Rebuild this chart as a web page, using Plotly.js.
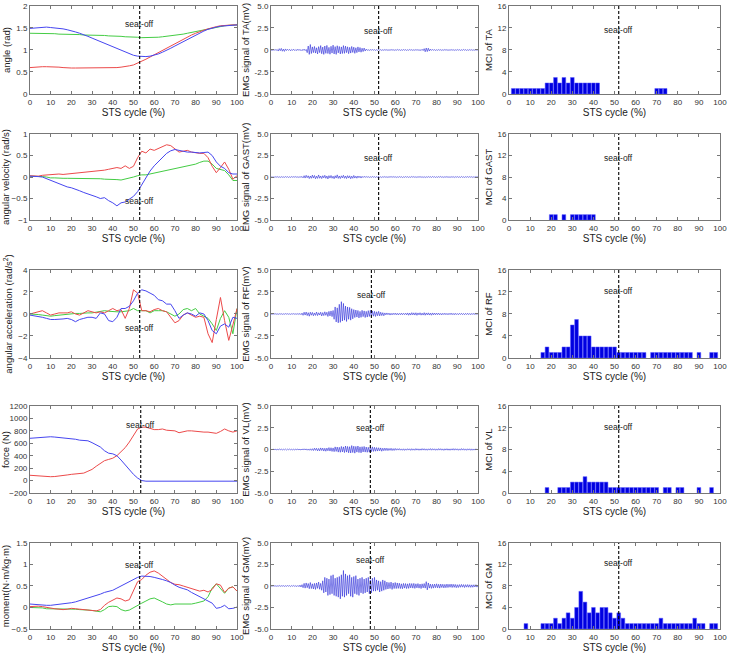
<!DOCTYPE html>
<html><head><meta charset="utf-8">
<script src="https://cdn.plot.ly/plotly-3.0.1.min.js"></script>
<style>html,body{margin:0;padding:0;background:#fff}#plot{width:730px;height:656px}</style>
</head><body><div id="plot"></div>
<script>
// ---------- data ----------
const cycleX = [0,2,4,6,8,10,12,14,16,18,20,22,24,26,28,30,32,34,36,38,40,42,44,46,48,50,52,54,56,58,60,62,64,66,68,70,72,74,76,78,80,82,84,86,88,90,92,94,96,98,100];

const angleBlue = [1.49,1.50,1.51,1.52,1.52,1.51,1.50,1.50,1.48,1.46,1.44,1.41,1.38,1.35,1.31,1.27,1.23,1.19,1.15,1.11,1.07,1.03,0.99,0.95,0.91,0.88,0.86,0.85,0.85,0.86,0.88,0.91,0.95,0.99,1.04,1.09,1.14,1.19,1.24,1.29,1.34,1.39,1.43,1.47,1.50,1.52,1.54,1.55,1.56,1.57,1.57];
const angleRed = [0.60,0.61,0.61,0.62,0.62,0.62,0.62,0.61,0.60,0.59,0.59,0.59,0.59,0.59,0.59,0.59,0.59,0.59,0.59,0.59,0.59,0.60,0.61,0.62,0.64,0.66,0.70,0.74,0.79,0.84,0.89,0.95,1.00,1.05,1.10,1.15,1.20,1.25,1.30,1.34,1.38,1.42,1.45,1.48,1.51,1.53,1.55,1.56,1.57,1.57,1.57];
const angleGreen = [1.38,1.38,1.38,1.38,1.37,1.37,1.37,1.36,1.36,1.36,1.36,1.35,1.35,1.34,1.34,1.34,1.33,1.33,1.33,1.32,1.32,1.31,1.31,1.30,1.30,1.29,1.29,1.28,1.28,1.28,1.28,1.29,1.30,1.31,1.32,1.33,1.35,1.36,1.38,1.40,1.42,1.44,1.46,1.48,1.50,1.52,1.53,1.55,1.56,1.57,1.57];

const velBlue = [0.02,0.02,0.01,0.0,-0.04,-0.08,-0.12,-0.16,-0.19,-0.23,-0.25,-0.28,-0.32,-0.36,-0.39,-0.42,-0.46,-0.50,-0.48,-0.55,-0.60,-0.67,-0.60,-0.58,-0.52,-0.45,-0.34,-0.18,-0.02,0.14,0.26,0.36,0.46,0.55,0.61,0.64,0.62,0.60,0.58,0.58,0.57,0.56,0.57,0.58,0.50,0.35,0.25,0.20,0.10,0.07,0.07];
const velRed = [0.03,0.02,0.02,0.04,0.05,0.05,0.06,0.07,0.06,0.07,0.08,0.08,0.09,0.10,0.12,0.12,0.14,0.15,0.16,0.18,0.20,0.22,0.20,0.26,0.20,0.25,0.45,0.60,0.56,0.65,0.62,0.66,0.70,0.75,0.73,0.65,0.58,0.60,0.62,0.58,0.56,0.55,0.55,0.45,0.25,0.10,0.22,0.35,0.18,-0.05,0.03];
const velGreen = [0.02,0.02,0.01,0.01,0.0,-0.02,-0.02,-0.03,-0.03,-0.03,-0.03,-0.03,-0.03,-0.04,-0.04,-0.04,-0.04,-0.04,-0.05,-0.05,-0.05,-0.06,-0.07,-0.05,-0.03,0.0,0.03,0.05,0.05,0.07,0.10,0.12,0.13,0.15,0.18,0.20,0.22,0.23,0.25,0.27,0.30,0.34,0.37,0.37,0.30,0.20,0.18,0.15,0.05,-0.08,-0.08];

const accBlue = [-0.1,-0.15,-0.2,-0.3,-0.4,-0.5,-0.5,-0.5,-0.45,-0.4,-0.5,-0.7,-0.5,-0.4,-0.3,-0.3,-0.4,0.1,0.0,-0.6,-0.7,-0.3,0.5,0.5,0.7,1.2,1.9,2.2,2.1,1.9,1.7,1.3,1.2,0.9,0.9,0.3,-0.4,-0.1,0.1,0.0,-0.2,0.1,0.0,-0.6,-1.5,-1.8,-1.1,-0.9,-1.2,-0.3,-0.4];
const accRed = [0.0,0.1,0.2,0.3,0.1,-0.1,0.0,0.1,0.1,0.1,0.2,0.0,-0.1,0.1,0.3,0.2,0.1,0.2,0.1,0.3,0.5,0.3,0.4,-0.4,0.5,2.2,1.9,0.3,0.3,0.2,0.4,0.5,0.3,0.2,-0.3,-0.8,-0.6,-0.1,0.1,-0.1,-0.3,-0.2,-0.3,-1.8,-2.6,-0.5,1.5,-0.6,-2.4,-1.0,0.5];
const accGreen = [0.0,0.0,-0.05,-0.1,-0.15,-0.2,-0.15,-0.1,-0.05,0.0,0.0,0.05,0.05,0.1,0.1,0.1,0.15,0.2,0.3,0.25,0.2,0.2,0.2,0.25,0.3,0.5,0.3,0.3,0.3,0.1,0.3,0.3,0.3,0.2,0.0,-0.2,0.0,0.4,0.5,0.3,0.5,0.0,-0.2,-0.4,-0.9,-1.5,-0.4,0.3,-0.3,-1.8,0.5];

const forceBlue = [680,685,690,700,710,705,700,695,690,685,675,665,650,645,640,610,575,540,480,440,430,400,330,250,170,100,40,0,-10,-10,-10,-10,-10,-10,-10,-10,-10,-10,-10,-10,-10,-10,-10,-10,-10,-10,-10,-10,-10,-10,-10];
const forceRed = [85,80,70,65,60,62,65,70,80,90,100,105,115,120,150,180,230,280,320,340,360,400,460,530,620,730,830,860,860,840,820,820,830,810,810,800,770,790,800,800,790,790,780,780,770,760,790,830,800,780,800];

const momBlue = [0.08,0.07,0.06,0.05,0.05,0.05,0.06,0.07,0.09,0.10,0.11,0.13,0.16,0.19,0.22,0.25,0.27,0.31,0.35,0.37,0.40,0.45,0.50,0.55,0.60,0.65,0.70,0.73,0.73,0.72,0.70,0.68,0.65,0.62,0.58,0.52,0.47,0.44,0.41,0.35,0.30,0.25,0.20,0.15,0.10,-0.02,0.0,0.05,-0.03,-0.02,0.01];
const momRed = [0.02,0.03,0.03,0.02,0.0,-0.02,-0.03,-0.04,-0.05,-0.04,-0.02,-0.03,-0.04,-0.05,-0.06,-0.07,-0.08,-0.05,0.05,0.12,0.18,0.22,0.20,0.15,0.18,0.40,0.60,0.65,0.75,0.82,0.85,0.80,0.72,0.64,0.58,0.54,0.53,0.50,0.47,0.44,0.40,0.38,0.40,0.36,0.42,0.55,0.52,0.35,0.45,0.48,0.38];
const momGreen = [0.0,0.0,0.0,-0.01,-0.03,-0.03,-0.03,-0.04,-0.04,-0.03,-0.03,-0.04,-0.05,-0.05,-0.06,-0.07,-0.08,-0.10,-0.05,0.02,0.03,0.02,-0.05,-0.08,-0.06,0.0,0.05,0.10,0.15,0.20,0.22,0.18,0.13,0.08,0.06,0.08,0.08,0.07,0.07,0.08,0.10,0.12,0.15,0.25,0.45,0.55,0.45,0.33,0.45,0.48,0.38];

// EMG signals sampled every 0.5 % of the STS cycle (0 .. 100)
const emgStep = 0.5;
const emgTA = [.03,-.05,.04,-.03,.05,-.04,.06,
-.12,.15,-.08,.18,-.14,.1,-.16,.12,
-.06,.08,-.05,.07,-.09,.06,-.04,.08,-.07,.05,-.06,.09,-.05,.07,-.08,.05,-.06,.1,-.07,.06,
-.3,.45,-.5,.62,-.4,.35,
-.3,.4,-.35,.25,-.45,.38,-.3,.5,-.42,.33,-.5,.45,-.38,.52,-.4,.3,-.48,.42,-.35,.55,-.45,.38,-.5,.48,-.33,.4,-.45,.35,-.4,.5,-.38,.44,-.3,.36,-.42,.3,-.35,.4,-.28,.32,-.38,.25,-.3,.35,-.22,.28,-.25,.2,-.18,.22,-.12,.1,
-.04,.03,-.05,.04,-.02,.05,-.03,.04,-.05,.03,-.04,.06,-.03,.04,-.05,.03,-.04,.05,-.03,.04,-.05,.03,-.04,.05,-.02,.04,-.05,.03,-.04,.06,-.03,.04,-.05,.03,-.04,.05,-.03,.04,-.05,.03,-.04,.06,-.03,.04,-.05,.03,-.04,.05,-.03,.04,-.05,.03,-.06,.08,-.07,
.15,-.2,.22,-.18,.2,-.12,.1,
-.04,.05,-.03,.04,-.05,.03,-.04,.05,-.03,.04,-.05,.03,-.04,.06,-.03,.04,-.05,.03,-.04,.05,-.03,.04,-.05,.03,-.04,.05,-.03,.04,-.05,.03,-.04,.06,-.03,.04,-.05,.03,-.04,.05,-.03,.04,-.05,.03,-.04,.05,-.03,.04];
const emgGAST = [.03,-.04,.02,-.05,.04,-.03,.05,-.04,.03,-.05,.04,-.03,.02,-.04,.05,-.03,.04,-.05,.03,-.04,.05,-.03,.04,-.02,.05,-.04,.03,-.05,.04,-.03,.06,
-.1,.15,-.12,.2,-.08,.14,-.18,.12,-.15,.22,-.12,.18,-.2,.1,-.16,.24,-.14,.12,-.18,.15,-.1,.2,-.15,.12,-.22,.16,-.12,.18,-.14,.1,-.2,.15,-.12,.25,-.16,.12,-.18,.14,-.1,.2,-.15,.12,-.18,.16,-.12,.14,-.2,.1,-.15,.18,-.12,.1,-.14,.12,-.08,.1,-.12,.08,-.06,.08,
-.04,.05,-.03,.04,-.05,.03,-.04,.06,-.03,.04,-.05,.04,-.03,.05,-.04,.03,-.06,.04,-.03,.05,-.04,.03,-.05,.04,-.03,.06,-.04,.05,-.03,.04,-.05,.03,-.04,.05,-.03,.04,-.06,.03,-.04,.05,-.03,.04,-.05,.03,-.04,.06,-.03,.05,-.04,.03,-.05,.04,-.03,.05,-.04,.03,-.05,.04,-.06,.03,-.04,.05,-.03,.04,-.05,.06,-.03,.04,-.05,.03,-.04,.05,-.03,.06,-.04,.03,-.05,.04,-.03,.05,-.04,.03,-.05,.04,-.03,.05,-.06,.04,-.03,.05,-.04,.03,-.05,.06,-.04,.03,-.05,.04,-.03,.05,-.04,.05,-.03,.04,-.05,.03,-.04,.05,-.03,.04];
const emgRF = [.02,-.03,.03,-.02,.04,-.03,.02,-.04,.03,-.02,.03,-.04,.02,-.03,.04,-.02,.03,-.03,.02,-.04,.03,-.02,.04,-.03,.02,-.03,.04,-.05,.06,-.08,.1,
-.15,.2,-.12,.22,-.18,.15,-.25,.2,-.14,.18,-.2,.12,-.16,.22,-.18,.14,-.12,.2,-.22,.16,-.18,.25,-.15,.2,-.28,.3,-.22,.35,-.3,.4,
-.6,.8,-.9,.7,-1.0,1.1,-.95,1.4,-.8,1.2,-.7,.9,-.85,.8,-.6,.75,-.7,.6,-.55,.5,
-.4,.45,-.35,.4,-.45,.3,-.38,.42,-.3,.35,-.4,.3,-.35,.38,-.28,.42,-.3,.35,-.25,.3,-.28,.25,-.2,.3,-.22,.2,-.18,.15,-.2,.12,
-.1,.12,-.08,.1,-.12,.08,-.1,.09,-.07,.1,-.09,.08,-.1,.07,-.08,.1,-.09,.08,-.07,.09,-.1,.12,-.14,.1,-.12,.15,-.1,.13,-.12,.14,-.15,.12,-.1,.14,-.13,.1,-.12,.15,-.14,.12,-.1,.13,-.12,.1,-.14,.12,-.1,.11,-.09,.1,-.08,.1,-.09,.07,-.1,.08,-.07,.09,-.08,.07,-.09,.08,-.07,.1,-.08,.07,-.09,.08,-.07,.06,-.08,.07,-.06,.08,-.07,.06,-.08,.07,-.06,.08,-.07,.06,-.08,.07,-.06,.08,-.07,.06,-.05,.06];
const emgVL = [.03,-.04,.05,-.03,.04,-.05,.03,-.04,.06,-.03,.04,-.05,.03,-.04,.05,-.06,.04,-.03,.05,-.04,.03,-.05,.04,-.06,.05,-.04,.06,-.05,.04,-.07,.06,-.05,.08,-.06,.07,-.08,.06,-.09,.08,-.1,.09,
-.12,.15,-.1,.14,-.16,.12,-.15,.18,-.12,.16,-.18,.14,-.2,.16,-.15,.22,-.18,.2,-.22,.18,
-.25,.3,-.22,.28,-.3,.25,-.32,.35,-.28,.3,-.35,.4,-.3,.35,-.38,.32,-.4,.45,-.35,.38,-.42,.35,-.3,.4,-.35,.3,-.38,.32,-.28,.35,-.3,.28,-.32,.25,-.3,.28,-.25,.3,-.22,.25,
-.2,.22,-.18,.2,-.15,.18,-.2,.15,-.14,.16,-.12,.15,-.13,.12,-.1,.14,-.12,.1,-.11,.12,
-.08,.09,-.07,.1,-.08,.07,-.09,.08,-.1,.07,-.08,.09,-.07,.08,-.1,.09,-.08,.07,-.09,.1,-.07,.08,-.09,.07,-.08,.1,-.07,.09,-.08,.07,-.09,.08,-.07,.1,-.08,.09,-.07,.08,-.09,.07,-.08,.1,-.07,.09,-.08,.07,-.1,.08,-.07,.09,-.08,.07,-.09,.08,-.07,.1,-.08,.09,-.07,.08,-.09,.07,-.08,.1,-.07,.09,-.08,.07,-.09,.08,-.07,.08,-.09,.07,-.08,.06,-.07,.08,-.06,.07];
const emgGM = [.02,-.03,.04,-.02,.03,-.04,.02,-.03,.05,-.04,.03,-.02,.04,-.05,.03,-.04,.05,-.03,.04,-.06,.05,-.04,.06,-.05,.04,-.07,.06,-.08,.1,-.12,.15,
-.2,.3,-.25,.35,-.2,.28,-.32,.4,-.3,.25,-.35,.3,-.4,.35,-.28,.45,-.38,.3,-.5,.6,
-.8,1.0,-.7,.9,-1.1,.8,-1.0,1.2,-.9,1.3,-1.1,.9,-1.2,1.0,-1.3,1.1,
-1.5,1.3,-1.2,1.8,-1.3,1.4,
-1.1,1.2,-.9,1.3,-1.2,1.0,-1.3,1.1,-.9,1.2,-1.0,.8,-1.1,.9,-.8,1.0,-.9,.8,
-.8,.9,-.7,1.0,-.9,.7,-.8,.9,-.6,1.0,
-.6,.7,-.5,.6,-.7,.5,-.6,.7,-.5,.6,
-.4,.45,-.35,.4,-.3,.45,-.4,.35,-.3,.4,
-.3,.35,-.28,.32,-.3,.25,-.32,.3,-.25,.28,-.3,.25,-.28,.3,-.22,.28,-.25,.3,-.28,.25,-.22,.28,-.25,.22,-.3,.25,-.22,.28,-.25,.5,-.45,.35,-.25,.22,-.28,.2,-.25,.22,-.2,.25,-.22,.2,-.25,.22,-.18,.2,-.22,.18,-.2,.22,-.18,.2,-.15,.22,-.18,.2,-.16,.18,-.2,.15,-.18,.16,-.15,.18,-.14,.16,-.18,.15,-.14,.16,-.15,.14,-.16,.13,-.15,.14,-.12,.15,-.13,.12];

// MCI bars
const mciTA_x = [2,4,6,8,10,12,14,16,18,20,22,24,26,28,30,32,34,36,38,40,42,70,72,74];
const mciTA_y = [1,1,1,1,1,1,1,1,2,2,3,2,3,2,3,2,2,2,2,2,2,1,1,1];
const mciGAST_x = [20,22,26,30,32,34,36,38,40];
const mciGAST_y = [1,1,1,1,1,1,1,1,1];
const mciRF_x = [16,18,20,22,24,26,28,30,32,34,36,38,40,42,44,46,48,50,52,54,56,58,60,62,64,68,70,72,74,76,78,80,82,84,86,90,96,98];
const mciRF_y = [1,2,1,1,1,2,2,6,7,4,4,4,2,2,2,2,2,2,1,1,1,1,1,1,1,1,1,1,1,1,1,1,1,1,1,1,1,1];
const mciVL_x = [18,24,26,28,30,32,34,36,38,40,42,44,46,48,50,52,54,56,58,60,62,64,66,68,70,74,76,80,82,90,96];
const mciVL_y = [1,1,1,1,2,2,2,3,2,2,2,2,2,1,1,1,1,1,1,1,1,1,1,1,1,1,1,1,1,1,1];
const mciGM_x = [8,16,18,20,22,24,26,28,30,32,34,36,38,40,42,44,46,48,50,52,54,56,58,60,62,64,66,68,70,72,74,76,78,80,82,84,86,88,90,92,96,98];
const mciGM_y = [1,1,1,1,2,1,2,3,2,4,7,5,3,4,3,4,4,3,2,3,2,1,1,1,1,1,1,1,1,2,1,1,1,1,1,1,1,2,1,1,1,1];

// seat-off positions (% of cycle)
const seatOffCol1 = [53,53,53,53.5,53];
const seatOffCol2 = [52,52,48.5,48,48];
const seatOffCol3 = [52,52,52,52,52];
const seatOffLabelY = [[0.875,0.14,0.26,0.86,0.83],[0.8,0.8,0.8,0.83,0.88],[0.81,0.8,0.84,0.84,0.85]];

const col1Titles = ['angle (rad)','angular velocity (rad/s)','angular acceleration (rad/s<sup>2</sup>)','force (N)','moment(N·m/kg·m)'];
const col2Titles = ['EMG signal of TA(mV)','EMG signal of GAST(mV)','EMG signal of RF(mV)','EMG signal of VL(mV)','EMG signal of GM(mV)'];
const col3Titles = ['MCI of TA','MCI of GAST','MCI of RF','MCI of VL','MCI of GM'];
const col1Ranges = [[0,2],[-1,1],[-4,4],[-200,1200],[-0.5,1.5]];
const col1Dticks = [0.5,0.5,2,200,0.5];
const emgTickVals = [-5,-2.5,0,2.5,5];
const emgTickText = ['-5.0','-2.5','0','2.5','5.0'];
const xTitle = 'STS cycle (%)';

// ---------- build ----------
const xd = [[0.041,0.3247],[0.3712,0.6548],[0.6973,0.9863]];
const yd = [[0.8567,0.9909],[0.6646,0.7957],[0.4543,0.5884],[0.2485,0.3811],[0.0412,0.1723]];
const FONT = 'Liberation Sans, Arial, sans-serif';
const BLUE='#4646f0', RED='#ec4a4a', GREEN='#44cc44';

const layout = {width:730,height:656,margin:{l:0,r:0,t:0,b:0},showlegend:false,
  paper_bgcolor:'#fff',plot_bgcolor:'#fff',bargap:0.12,font:{family:FONT,color:'#222'},
  shapes:[],annotations:[]};
const traces = [];

function axBase(){
  return {showgrid:false,zeroline:false,showline:true,linecolor:'#777',linewidth:1,mirror:'ticks',
    ticks:'inside',ticklen:3,tickcolor:'#777',tickfont:{size:8,color:'#333',family:FONT}};
}

const emgList = [emgTA,emgGAST,emgRF,emgVL,emgGM];
const mciList = [[mciTA_x,mciTA_y],[mciGAST_x,mciGAST_y],[mciRF_x,mciRF_y],[mciVL_x,mciVL_y],[mciGM_x,mciGM_y]];
const col1Data = [[angleBlue,angleRed,angleGreen],[velBlue,velRed,velGreen],[accBlue,accRed,accGreen],[forceBlue,forceRed,null],[momBlue,momRed,momGreen]];

for(let r=0;r<5;r++){
  for(let c=0;c<3;c++){
    const n = r*3+c+1;
    const xs = n===1?'':String(n);
    const xa = 'x'+xs, ya='y'+xs;
    const xaxis = axBase(); const yaxis = axBase();
    xaxis.domain = xd[c]; yaxis.domain = yd[r];
    xaxis.anchor = ya; yaxis.anchor = xa;
    xaxis.range=[0,100]; xaxis.dtick=10; xaxis.tick0=0;
    xaxis.title = {text:xTitle,font:{size:10,family:FONT,color:'#222'},standoff:2};
    let seat, ttl;
    if(c===0){
      yaxis.range=col1Ranges[r]; yaxis.dtick=col1Dticks[r]; yaxis.tick0=0;
      ttl = col1Titles[r]; seat = seatOffCol1[r];
      const d = col1Data[r];
      const cols=[BLUE,RED,GREEN];
      [2,1,0].forEach(k=>{ if(d[k]) traces.push({type:'scatter',mode:'lines',x:cycleX,y:d[k],xaxis:xa,yaxis:ya,
        line:{color:cols[k],width:1},hoverinfo:'skip'}); });
    } else if(c===1){
      yaxis.range=[-5,5]; yaxis.tickvals=emgTickVals; yaxis.ticktext=emgTickText;
      ttl = col2Titles[r]; seat = seatOffCol2[r];
      const sig = emgList[r];
      const ex = sig.map((_,i)=>i*emgStep);
      traces.push({type:'scatter',mode:'lines',x:ex,y:sig,xaxis:xa,yaxis:ya,line:{color:'#2a2ad8',width:0.6},hoverinfo:'skip'});
    } else {
      yaxis.range=[0,16]; yaxis.dtick=4; yaxis.tick0=0;
      ttl = col3Titles[r]; seat = seatOffCol3[r];
      traces.push({type:'bar',x:mciList[r][0],y:mciList[r][1],xaxis:xa,yaxis:ya,
        marker:{color:'#0000e0',line:{color:'#5a5aff',width:0.5}},hoverinfo:'skip'});
    }
    yaxis.title = {text:ttl,font:{size:9.5,family:FONT,color:'#222'},standoff:3};
    layout['xaxis'+xs]=xaxis; layout['yaxis'+xs]=yaxis;
    layout.shapes.push({type:'line',xref:xa,yref:ya+' domain',x0:seat,x1:seat,y0:0,y1:1,
      line:{color:'#000',width:1.1,dash:'3px,2px'}});
    layout.annotations.push({xref:xa,yref:ya+' domain',x:seat,y:seatOffLabelY[c][r],text:'seat-off',
      showarrow:false,font:{size:8.5,family:FONT,color:'#222'}});
  }
}
Plotly.newPlot('plot',traces,layout,{staticPlot:true,displayModeBar:false});
</script>
</body></html>
